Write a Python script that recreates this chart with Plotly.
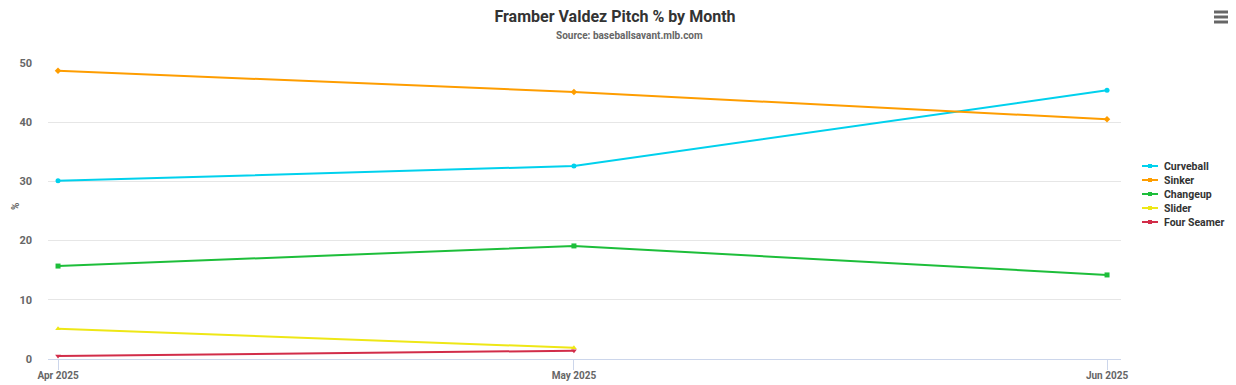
import plotly.graph_objects as go

months = ["2025-04-01", "2025-05-01", "2025-06-01"]
tick_labels = ["Apr 2025", "May 2025", "Jun 2025"]

curveball = [30.1, 32.6, 45.4]
sinker = [48.7, 45.1, 40.5]
changeup = [15.7, 19.1, 14.2]
slider = [5.1, 1.9]
four_seamer = [0.5, 1.4]

series = [
    ("Curveball", months, curveball, "#00D1ED", "circle"),
    ("Sinker", months, sinker, "#FE9D00", "diamond"),
    ("Changeup", months, changeup, "#1DBE3A", "square"),
    ("Slider", months[:2], slider, "#EEE716", "triangle-up"),
    ("Four Seamer", months[:2], four_seamer, "#D22D49", "triangle-down"),
]

FONT = "Roboto, sans-serif"

# page body has an 8px margin: figure is drawn at (8, 8)
OFF = 8
W, H = 1228, 377
L, T = 48 - OFF, 63 - OFF
R = W - (1121 - OFF)
B = H - (359 - OFF)
PW, PH = W - L - R, H - T - B


def px(xp):
    return (xp - OFF - L) / PW


def py(yp):
    return (H - B - (yp - OFF)) / PH


fig = go.Figure()
for name, x, y, color, sym in series:
    fig.add_trace(go.Scatter(
        x=x, y=y, name=name, mode="lines+markers", showlegend=False,
        line=dict(color=color, width=2),
        marker=dict(color=color, size=5, symbol=sym),
    ))

annotations = [
    dict(text="<b>Source: baseballsavant.mlb.com</b>", xref="paper", yref="paper",
         x=px(629), y=py(36), xanchor="center", yanchor="middle",
         showarrow=False, font=dict(family=FONT, size=10, color="#666666")),
    dict(text="<b>%</b>", xref="paper", yref="paper",
         x=px(15), y=py(207), xanchor="center", yanchor="middle",
         textangle=-90, showarrow=False, font=dict(family=FONT, size=10, color="#666666")),
]
shapes = []

# custom legend
for i, (name, x, y, color, sym) in enumerate(series):
    yy = 166 + 14 * i
    shapes.append(dict(type="line", xref="paper", yref="paper",
                       x0=px(1142), x1=px(1158), y0=py(yy), y1=py(yy),
                       line=dict(color=color, width=2)))
    shapes.append(dict(type="rect", xref="paper", yref="paper",
                       x0=px(1148), x1=px(1152), y0=py(yy + 2), y1=py(yy - 2),
                       fillcolor=color, line=dict(width=0)))
    annotations.append(dict(text="<b>%s</b>" % name, xref="paper", yref="paper",
                            x=px(1162), y=py(yy), xanchor="left", yanchor="middle",
                            showarrow=False,
                            font=dict(family=FONT, size=10.5, color="#333333")))

# menu icon (hamburger)
for yy in [12, 17, 22]:
    shapes.append(dict(type="line", xref="paper", yref="paper",
                       x0=px(1214), x1=px(1230), y0=py(yy), y1=py(yy),
                       line=dict(color="#666666", width=3)))

fig.update_layout(
    width=W, height=H,
    margin=dict(l=L, r=R, t=T, b=B, autoexpand=False),
    paper_bgcolor="white", plot_bgcolor="white",
    font=dict(family=FONT, color="#666666", size=11),
    showlegend=False,
    title=dict(
        text="<b>Framber Valdez Pitch % by Month</b>",
        x=px(615), xanchor="center", xref="paper", y=1 - (16 - OFF) / H, yanchor="middle",
        font=dict(family=FONT, size=16, color="#333333"),
    ),
    annotations=annotations,
    shapes=shapes,
    xaxis=dict(
        type="date", automargin=False,
        range=["2025-03-31 10:00", "2025-06-01 19:30"],
        tickvals=months, ticktext=["<b>%s</b>" % t for t in tick_labels],
        showgrid=False, showline=True, linecolor="#ccd6eb", linewidth=1,
        ticks="outside", ticklen=10, tickcolor="#ccd6eb",
        tickfont=dict(family=FONT, size=10, color="#666666"),
        ticklabelstandoff=-3,
        zeroline=False,
    ),
    yaxis=dict(
        range=[0, 50], tickvals=[0, 10, 20, 30, 40, 50], automargin=False,
        ticktext=["<b>%d</b>" % v for v in [0, 10, 20, 30, 40, 50]],
        showgrid=True, gridcolor="#e6e6e6", gridwidth=1,
        zeroline=False, showline=False, ticks="",
        tickfont=dict(family=FONT, size=11, color="#666666"),
        ticklabelstandoff=15,
    ),
)

fig.write_html("out.html")
